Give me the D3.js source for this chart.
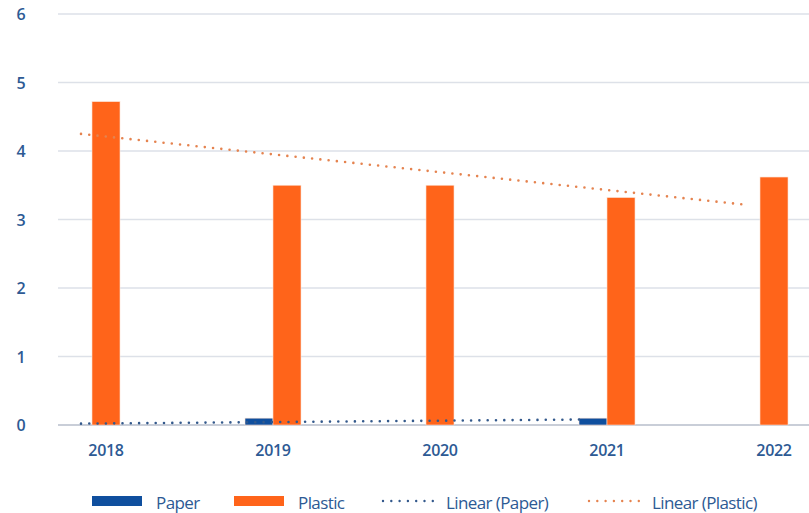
<!DOCTYPE html>
<html>
<head>
<meta charset="utf-8">
<script src="https://cdn.jsdelivr.net/npm/d3@7"></script>
<style>
  body { margin: 0; background: #fff; }
  text { font-family: "Open Sans", "Noto Sans", sans-serif; fill: #2d5a94; }
</style>
</head>
<body>
<svg id="chart"></svg>
<script>
const years = ["2018", "2019", "2020", "2021", "2022"];
const paper = [null, 0.1, null, 0.1, null];
const plastic = [4.72, 3.5, 3.5, 3.32, 3.62];
// trend line ends
const paperTrend = [0.02, 0.08];      // 2018 -> 2021
const plasticTrend = [4.25, 3.21];    // 2018 -> 2022
const yTicks = [0, 1, 2, 3, 4, 5, 6];

const width = 809, height = 513;
const blue = "#0f4f9e", orange = "#ff641a";
const blueTrend = "#33598c", orangeTrend = "#e5834f";

const svg = d3.select("#chart").attr("width", width).attr("height", height);

const x = d3.scalePoint().domain(years).range([106, 774]);
const y = d3.scaleLinear().domain([0, 6]).range([425, 14]);
const barW = 28;
const trendShift = -25;

// grid
svg.append("g").selectAll("line")
  .data(yTicks)
  .join("line")
  .attr("x1", 58).attr("x2", width)
  .attr("y1", d => y(d)).attr("y2", d => y(d))
  .attr("stroke", d => d === 0 ? "#c9ced8" : "#dde1e8")
  .attr("stroke-width", d => d === 0 ? 2 : 1.5);

// y labels
svg.append("g").selectAll("text")
  .data(yTicks)
  .join("text")
  .attr("x", 21).attr("y", d => y(d) + 6)
  .attr("text-anchor", "middle")
  .style("font-size", "16px").style("font-weight", 600)
  .text(d => d);

// x labels
svg.append("g").selectAll("text")
  .data(years)
  .join("text")
  .attr("x", d => x(d)).attr("y", 456)
  .attr("text-anchor", "middle")
  .style("font-size", "16px").style("font-weight", 600)
  .style("letter-spacing", "-0.3px")
  .text(d => d);

// bars, centred in category when a series has no value
const rows = years.map((yr, i) => {
  const vals = [{k: "paper", v: paper[i]}, {k: "plastic", v: plastic[i]}].filter(d => d.v != null);
  const inner = d3.scaleBand().domain(vals.map(d => d.k)).range([-vals.length * barW / 2, vals.length * barW / 2]);
  return vals.map(d => ({year: yr, key: d.k, value: d.v, x0: x(yr) + inner(d.k)}));
}).flat();

svg.append("g").selectAll("rect")
  .data(rows)
  .join("rect")
  .attr("x", d => d.x0)
  .attr("width", barW)
  .attr("y", d => y(d.value))
  .attr("height", d => y(0) - y(d.value))
  .attr("fill", d => d.key === "paper" ? blue : orange)
  .attr("stroke", "#fbe0d2").attr("stroke-width", 0.6);

// trend lines
const line = d3.line().x(d => d[0]).y(d => y(d[1]));
svg.append("path")
  .attr("d", line([[x("2018") + trendShift, paperTrend[0]], [x("2021") + trendShift, paperTrend[1]]]))
  .attr("fill", "none").attr("stroke", blueTrend).attr("stroke-width", 2.6)
  .attr("stroke-linecap", "round").attr("stroke-dasharray", "0 8.3");
svg.append("path")
  .attr("d", line([[x("2018") + trendShift, plasticTrend[0]], [x("2022") + trendShift, plasticTrend[1]]]))
  .attr("fill", "none").attr("stroke", orangeTrend).attr("stroke-width", 2.6)
  .attr("stroke-linecap", "round").attr("stroke-dasharray", "0 8.3");

// legend
const legend = [
  {label: "Paper", type: "rect", color: blue, x: 92},
  {label: "Plastic", type: "rect", color: orange, x: 234},
  {label: "Linear (Paper)", type: "dot", color: blueTrend, x: 381},
  {label: "Linear (Plastic)", type: "dot", color: orangeTrend, x: 587}
];
const lg = svg.append("g").selectAll("g").data(legend).join("g")
  .attr("transform", d => `translate(${d.x},0)`);
lg.filter(d => d.type === "rect").append("rect")
  .attr("x", 0).attr("y", 496).attr("width", 50).attr("height", 10)
  .attr("fill", d => d.color);
lg.filter(d => d.type === "dot").append("line")
  .attr("x1", 2).attr("x2", 52).attr("y1", 501).attr("y2", 501)
  .attr("stroke", d => d.color).attr("stroke-width", 2.4)
  .attr("stroke-linecap", "round").attr("stroke-dasharray", "0 8.3");
lg.append("text")
  .attr("x", d => d.type === "rect" ? 64 : 65).attr("y", 509)
  .style("font-size", "17px").style("font-weight", 500)
  .style("letter-spacing", "-0.6px")
  .text(d => d.label);
</script>
</body>
</html>
